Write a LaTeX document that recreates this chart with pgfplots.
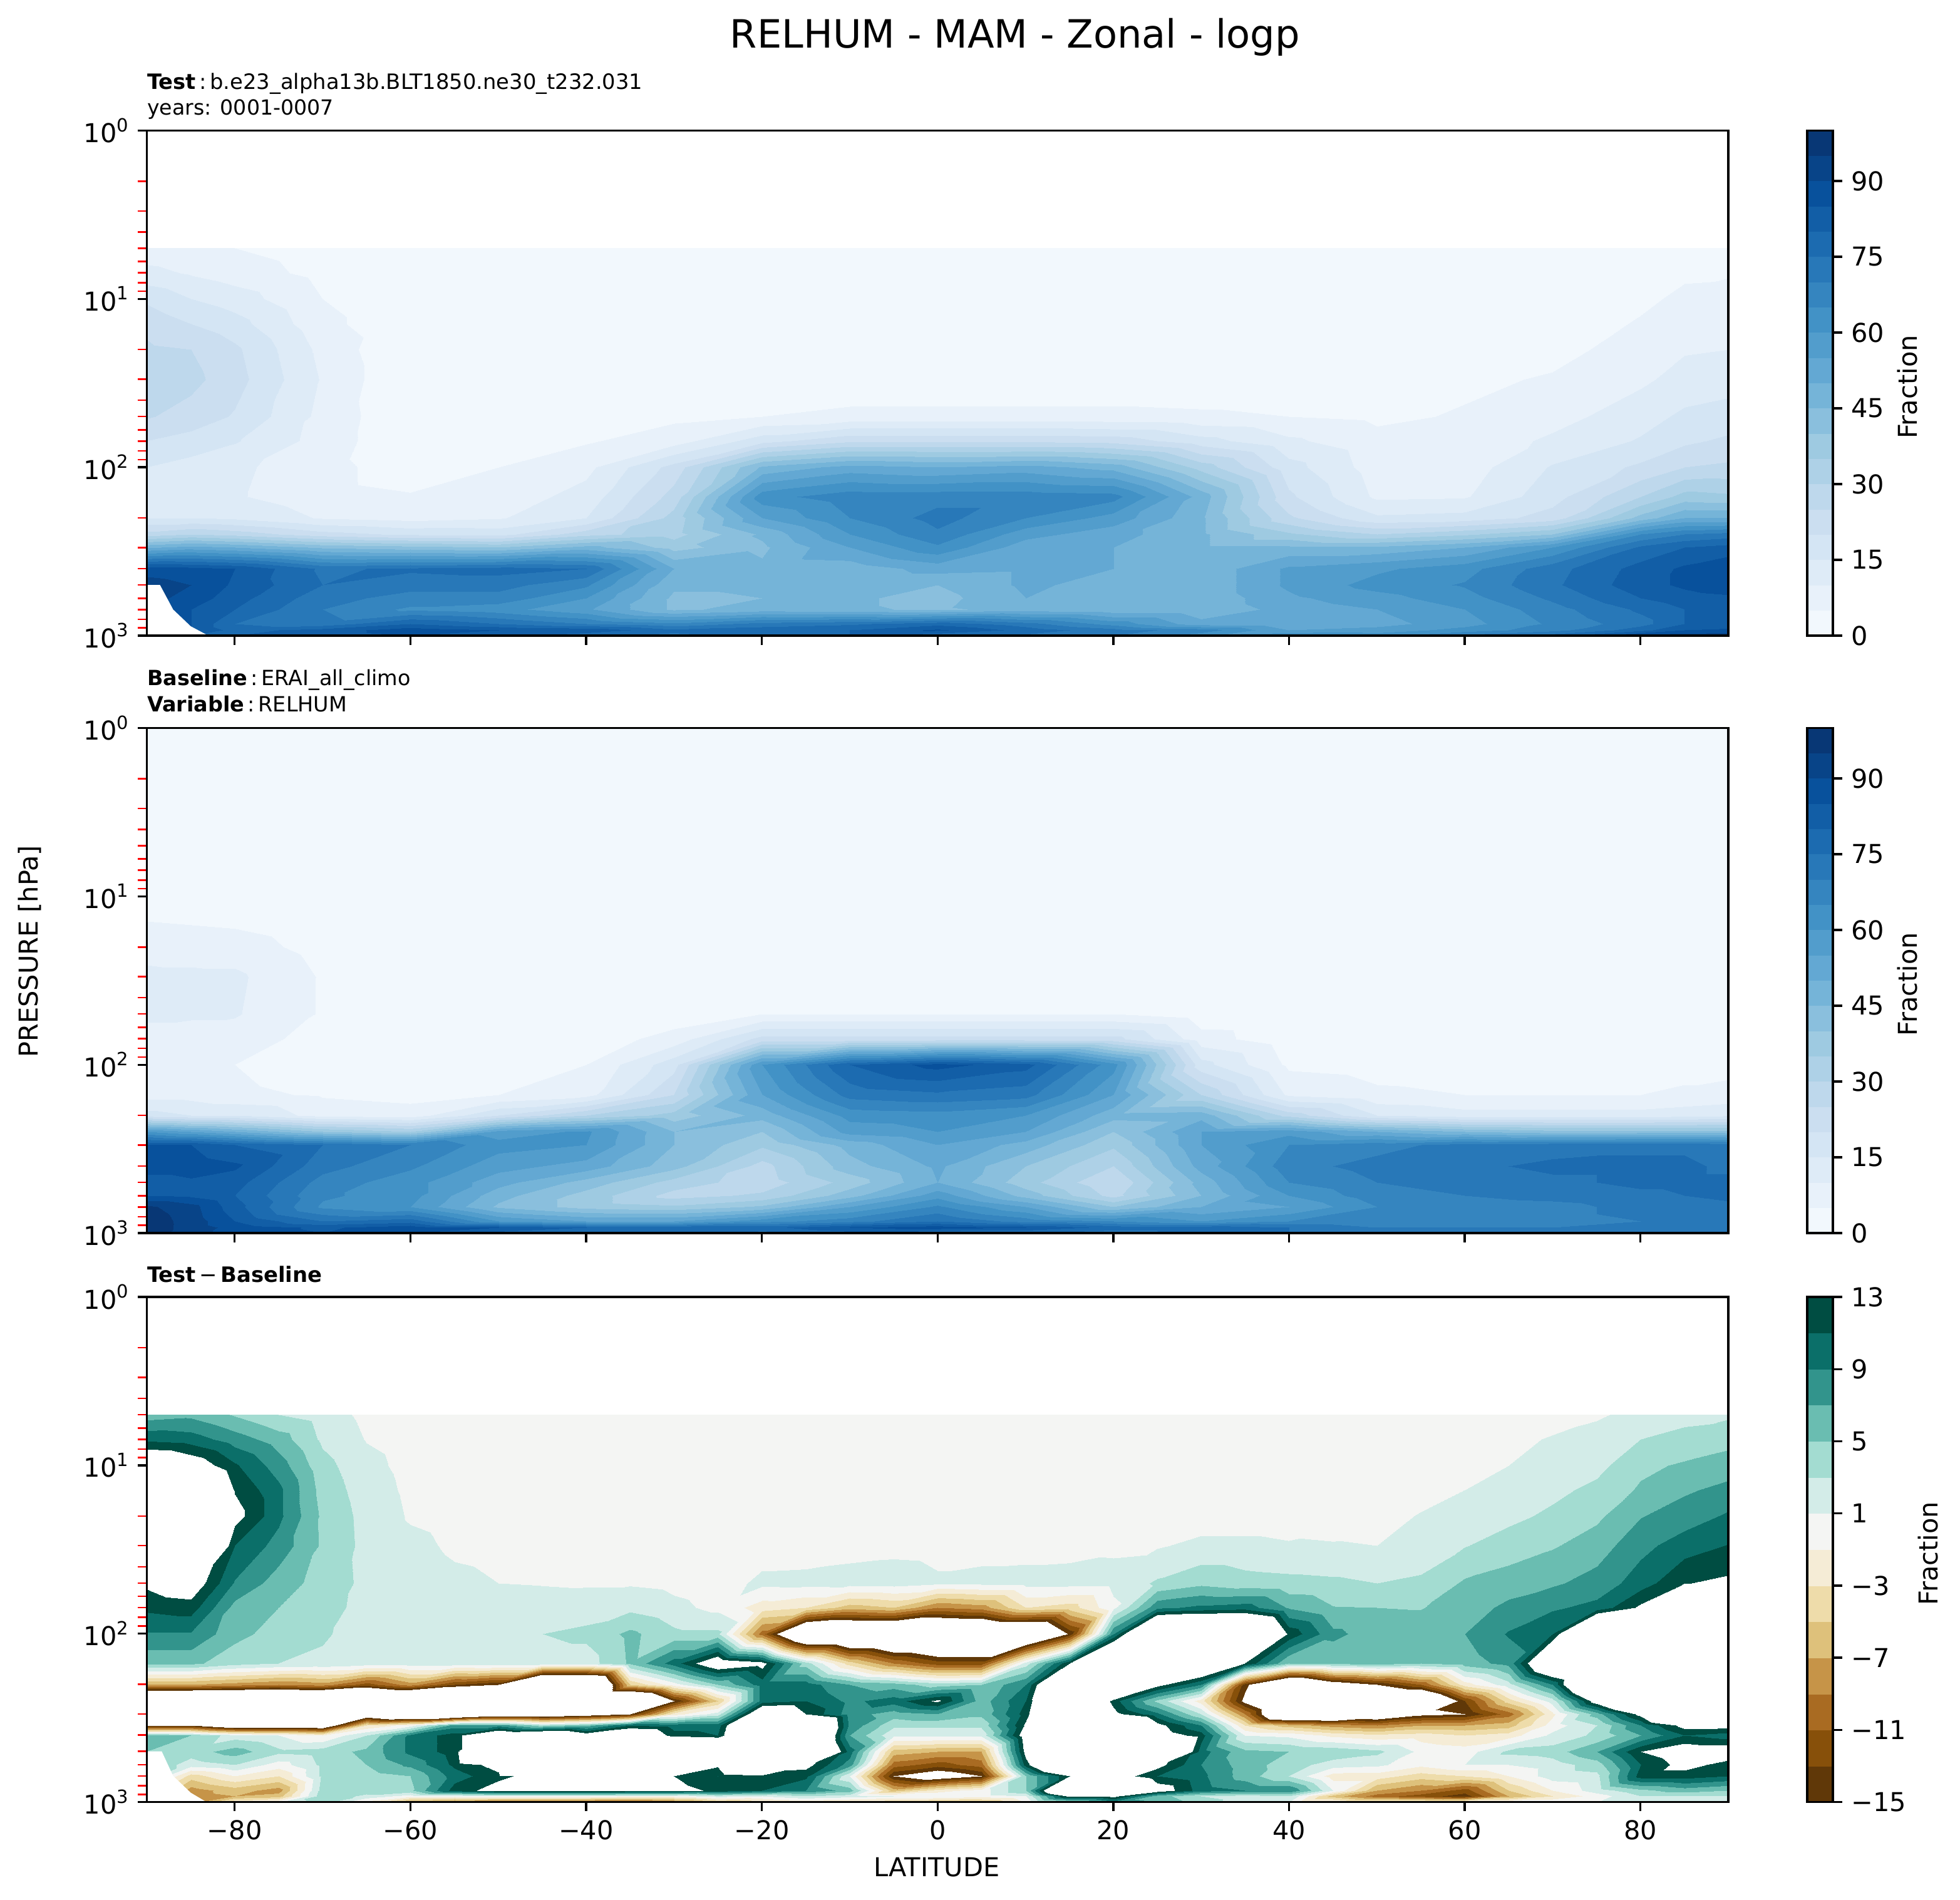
\documentclass[border=0pt]{standalone}
\usepackage{fontspec}
\setmainfont{DejaVu Sans}
\usepackage{pgfplots}
\pgfplotsset{compat=1.18}

% contourf look: interp shading through a stepped colormap
\pgfplotsset{colormap={blues}{rgb255(0)=(242,248,253) rgb255(1)=(232,241,250) rgb255(2)=(222,235,247) rgb255(3)=(212,229,244) rgb255(4)=(203,222,240) rgb255(5)=(190,216,236) rgb255(6)=(174,209,231) rgb255(7)=(158,202,225) rgb255(8)=(138,191,221) rgb255(9)=(117,180,216) rgb255(10)=(99,168,211) rgb255(11)=(82,157,204) rgb255(12)=(66,146,198) rgb255(13)=(53,133,191) rgb255(14)=(40,120,184) rgb255(15)=(28,107,176) rgb255(16)=(18,94,166) rgb255(17)=(8,81,156) rgb255(18)=(8,68,136) rgb255(19)=(8,55,117) rgb255(20)=(8,55,117)}}
% BrBG between -15 and 13, white outside that range
\pgfplotsset{colormap={brbg}{rgb255(0)=(255,255,255) rgb255(1)=(255,255,255) rgb255(2)=(255,255,255) rgb255(3)=(255,255,255) rgb255(4)=(255,255,255) rgb255(5)=(255,255,255) rgb255(6)=(255,255,255) rgb255(7)=(255,255,255) rgb255(8)=(255,255,255) rgb255(9)=(255,255,255)
 rgb255(10)=(96,56,8) rgb255(11)=(135,80,10) rgb255(12)=(169,107,34) rgb255(13)=(198,148,72) rgb255(14)=(222,193,123) rgb255(15)=(238,220,170) rgb255(16)=(245,236,214) rgb255(17)=(244,245,243) rgb255(18)=(211,236,232) rgb255(19)=(163,220,209) rgb255(20)=(106,189,177) rgb255(21)=(50,148,140) rgb255(22)=(11,111,105) rgb255(23)=(0,77,66)
 rgb255(24)=(255,255,255) rgb255(25)=(255,255,255) rgb255(26)=(255,255,255) rgb255(27)=(255,255,255) rgb255(28)=(255,255,255) rgb255(29)=(255,255,255) rgb255(30)=(255,255,255) rgb255(31)=(255,255,255) rgb255(32)=(255,255,255) rgb255(33)=(255,255,255) rgb255(34)=(255,255,255)}}

\newcommand\tp[1]{10\raisebox{0.42em}{\fontsize{7}{7}\selectfont #1}}
\newcommand\rowgrid[3]{\gdef#1{}\def\glist{#2}\foreach \p/\row in {#3}{\foreach \v [count=\i from 0] in \row {\pgfmathparse{{\glist}[\i]}\xdef#1{#1 (\pgfmathresult,\p) [\v]}}}}
\newcommand\colgrid[3]{\gdef#1{}\def\glist{#2}\foreach \lat/\col in {#3}{\foreach \v [count=\i from 0] in \col {\pgfmathparse{{\glist}[\i]}\xdef#1{#1 (\lat,\pgfmathresult) [\v]}}}}
\newcommand\gridplot[3]{\edef\mytmp{\noexpand\addplot[surf,shader=interp,mesh/rows=#2,mesh/cols=#3,point meta=explicit] coordinates {#1};}\mytmp}

\def\latsA{-90,-85,-80,-70,-60,-50,-40,-30,-20,-10,0,10,20,30,40,50,60,70,80,85,90}

\rowgrid\dataA{\latsA}{
5/{7,6,5,2.5,2,2,2,2,2,2,2,2,2,2,2,2,2,2,2,3,3},
7/{11.5,9.5,7.5,3.5,2,2,2,2,2,2,2,2,2,2,2,2,2,2,3,4.3,4.5},
10/{19,15,12.5,5,1,2,2,2,2,2,2,2,2,2,2,2,2,2,4,6,7},
14/{23.5,20,17,6.5,1,2,2,2,2,2,2,2,2,2,2,2,2,2,5.5,7.5,8.5},
20/{26,25,21,8.5,0,2,2,2,2,2,2,2,2,2,2,2,2,3.5,7,9.5,10},
30/{28,26.5,22,9.5,0,2.2,2,2,1,1,1,1,1,1,1,1.5,4,5.5,9,12,13},
50/{25.5,23,19.5,8.5,.5,3,3.5,4,5,6.5,6.5,6.5,6.5,6,5,4,5.5,8,13,16,17},
70/{20,18,15.5,8,.5,3.5,4.5,7.5,18,24,24,24,23,17,11,6.5,6.5,11,15.5,19,21},
100/{15,13,11,7,2,5,8.5,22,46,52,50,52,48,33,17,7.5,7.5,15.5,21,25,26},
150/{12.5,11,10.5,7,5.5,7,12,27,63,68,68,68,67,48,21,9,9.5,18,30,37,36},
200/{15,15,14,9.5,8,9.5,15,32,55,65,72,65,58,46,26,16,17,22,42,50,50},
250/{27,30,28,22,19,18,28,33,46,60,69,57,52,46,36,30,34,40,65,70,72},
300/{49,52,50,44,42,40,47,38,44,55,64,52,50,46,46,46,50,60,76,80,82},
400/{88,87,85,74,76,77,75,50,46,47,52,51,50,46,56,59,63,73,82,86,89},
500/{92,90,84,75,72,72,66,46,46,45,45,51,48,46,56,62,65.5,74,83,86,88},
600/{92,88,82,72,68,68,60,44,45,46,43,50,46,46,54,58,63,71,80,83,84},
700/{90,85,80,70,64,62,56,44,47,46,44,47,46,46,52,55,60,68,76,80,82},
850/{88,85,75,72,80,75,70,66,72,74,78,72,63,52,50,53,58,66,73,80,82},
925/{85,85,78,82,88,85,84,76,78,80,86,78,72,68,55,57,62,68,78,85,86},
1000/{80,80,80,82,85,82,76,74,74,80,76,74,70,62,65,63,72,78,92,93,95}}

\rowgrid\dataB{\latsA}{
1/{1,1,1,1,1,1,1,1,1,1,1,1,1,1,1,1,1,1,1,1,1},
5/{1,1,1,1,1,1,1,1,1,1,1,1,1,1,1,1,1,1,1,1,1},
10/{3,3,2,1,1,1,1,1,1,1,1,1,1,1,1,1,1,1,1,1,1},
14/{5,4.5,4,1.5,1,1,1,1,1,1,1,1,1,1,1,1,1,1,1,1,1},
20/{8.5,8,7.5,3,1,1,1,1,1,1,1,1,1,1,1,1,1,1,1,1,1},
30/{11,11,11,4.5,1,1,1,1,1,1,1,1,1,1,1,1,1,1,1,1,1},
50/{10.5,10.5,10.5,4.5,1.5,1,1,2,5,5,5,5,5,2,1.5,1.5,1.5,1.5,1.5,1.5,1.5},
70/{9,8.5,7.5,3,1.5,1.5,2,7,22,22,22,22,22,7,2,2,2,2,2,2,2},
100/{7.5,7,5,2.5,2,3,5,18,60,80,87,82,62,17,4,3,2.5,2.5,2.5,3,3},
150/{8,8,6,4.5,3.5,5,8,25,55,72,74,72,55,30,9,6,5,5,5,6,7},
200/{17,15,15,8,7,20,30,37,47,62,63,60,47,48,28,15,12,12,12,13,14},
250/{60,55,50,40,35,57,61,45,40,57,60,55,40,55,58,50,45,42,42,42,42},
300/{85,85,80,75,70,62,60,45,36,47,55,48,36,55,65,68,72,73,74,74,72},
400/{88,88,86,72,66,57,53,42,28,43,51,40,30,52,68,72,74,76,76,76,74},
500/{82,84,82,68,62,52,43,33,27,37,50,37,25,47,65,70,72,74,76,76,76},
600/{85,84,80,66,62,47,38,28,31,43,58,43,28,45,60,68,70,72,74,75,76},
700/{96,92,82,64,60,44,38,36,41,55,66,55,40,50,55,65,67,68,72,73,74},
850/{98,93,85,75,78,60,55,55,63,68,75,68,65,60,65,65,66,68,70,71,72},
925/{98,93,88,84,88,85,80,78,78,85,88,85,78,78,75,70,70,70,72,72,72},
1000/{98,92,88,85,85,78,78,80,73,78,75,75,72,78,75,72,72,72,75,73,72}}

\colgrid\dataC{5,7,10,14,20,30,50,70,100,150,200,250,300,350,400,500,600,700,850,925,1000}{
-90/{6,10.5,17,22,25,25,13.5,11.5,8.8,5.5,-7,-30,-30,-15,6,5,5,5,0,-5,-5},
-85/{6.5,10,15,20,25,25,15,12,8.8,5.5,-7,-30,-30,-15,5,4,2,-4,-8,-8,-8},
-80/{4.8,8,11.3,12.8,14,11,8.8,6.3,5.6,3.8,-8,-30,-30,-20,2,6,3,-1,-6,-7,-1},
-75/{3,6,8,9.5,9.5,8.2,6,5,4.2,3,-9,-30,-30,-20,1,3.5,0,-3,-8,-6,1},
-70/{2,2.6,3.7,4.2,4.6,4.7,4.2,3.7,3.2,2.7,-8,-30,-30,-20,-1,4,3.5,3.5,4,4.5,4},
-65/{.5,.9,1.6,2,2.3,2.4,2.5,2.4,2.3,2,-12,-30,-20,-3,3,5.5,5,4,4,2.5,-2},
-60/{0,.2,.4,.6,.8,1.5,2,2,2.2,2.2,-8,-30,-25,0,9.5,9.5,7.5,5,4.5,0,-8},
-55/{0,0,0,.2,.4,.7,1.4,2,2.2,2,-13,-30,-25,8,12,12,11.5,10,12,0,-10},
-50/{0,0,0,0,.2,.5,1,2,2.4,2.2,-15,-30,-20,8,18,25,14,12.5,14,1,-12},
-45/{0,0,0,0,0,.3,.9,1.8,3,2,-30,-30,-20,4,20,30,30,14,14,1,-12},
-40/{0,0,0,0,0,.2,.8,2,3.5,2,-30,-30,-18,6,15,30,30,30,14,1,-12},
-35/{0,0,0,0,0,.1,.8,2.5,5.5,5.3,-5,-30,-15,11,18,30,30,30,14,0,-12},
-30/{0,0,0,0,0,0,.5,1.5,3.5,10,0,-15,-2,10,12,30,30,13,14,0,-10},
-25/{0,0,0,0,0,0,0,.5,3.5,16,5,-5,2,10,11,25,13.5,11,12.5,2,-6},
-20/{0,0,0,0,0,0,1.5,-2,-10,14,10,10,18,25,25,25,25,12,11,1,-4},
-15/{0,0,0,0,0,0,1.6,-3,-25,4,10,11,13,25,25,25,14,11.5,9,3,-3},
-10/{0,0,0,0,0,.3,1.8,-6,-25,-4,7,8.5,8,8.5,7,10,8,1,6,2,-4},
-5/{0,0,0,0,0,.5,1.9,-5,-25,-9,6,10,6,3.5,1.5,-6,-10,-15,-6,1,-5},
0/{0,0,0,0,0,.4,1.3,-9,-25,-12,4,13.5,7,3.5,1.5,-7,-12,-18,-2,1,-6},
5/{0,0,0,0,0,.4,1.5,-8,-25,-12,5,6,5.5,3.5,1.5,-7,-10,-15,0,0,-6},
10/{0,0,0,0,0,.4,1.6,-3,-25,2,9,11,12,13.5,15,14,12,5,5,1,-1},
15/{0,0,0,0,0,.4,1.7,-4,-14.5,13,25,25,25,25,25,25,25,13,25,14,3},
20/{0,0,0,0,0,.7,1.6,.5,9,25,25,12,14,25,25,25,25,15,25,14,8},
25/{0,0,0,0,0,.8,3.3,8.5,25,25,14,4.5,9.5,14,15,25,14,11,15,6,7},
30/{0,0,0,0,0,1.5,4.5,9.5,25,20,9,-2,3,9,12,10,9,9.5,10,3,4},
35/{0,0,0,0,0,1.5,3.8,10,25,13,-14,-16,-9,-3,1,5.5,6,6,9,2,2},
40/{0,0,0,0,0,1.2,3.6,6.8,12.5,5,-25,-25,-25,-6,.5,5,4,3,9,3,1},
45/{0,0,0,0,.4,1.1,3.4,5.1,7.5,5.5,-18,-25,-25,-8,-1.5,4.5,2,-2,1,-6,0},
50/{0,0,0,0,.5,1,3,5,6,6,-15,-25,-20,-9,-2.5,3.5,1.5,-2,-7,-10,0},
55/{0,0,0,.5,1.1,2,3.3,4.9,6.2,5,-11,-25,-16,-7,-2,.5,-.5,-4,-9,-12,0},
60/{0,.1,.5,1,2,2.9,5.3,6,7,6,-2,-13,-15,-7,-3,0,1,-3,-12,-14,1},
65/{0,.4,1,1.7,2.5,3.9,6,7.5,9.2,7.7,2.2,-4,-10,-6,-2,3.5,1,-1,-5,-7,1},
70/{0,1.2,2,2.5,3.4,4.8,6.7,8.7,11,20,9,2,-1.5,0,1.5,4,2,2,-1,-3,1},
75/{.8,1.6,2.4,3.5,4.6,6,7.8,9.6,25,25,25,15,6,3,3.5,7,4,2.5,2,0,1},
80/{1.5,3,4.5,5.3,6.9,8.4,10,13.5,25,25,25,25,14,9,7,13,11,12,4.5,3,2},
85/{2.5,3.5,5.3,6.7,8,10,12.9,25,25,25,25,25,25,14,11,15,14,12,6,3,2},
90/{2.7,4.3,6,7.6,9.3,11.1,13.5,25,25,25,25,25,25,14,10,15,12,11,5,3,1}}

\pgfplotsset{
  myframe/.style={scale only axis, axis on top, tick align=outside,
    axis line style={line width=.8bp},
    tick style={black,line width=.8bp},
    major tick length=3.5bp,
    colormap access=piecewise constant,
    tick label style={font=\fontsize{10}{12}\selectfont},
  },
  mypanel/.style={myframe, width=606.14bp, height=193.56bp,
    xmin=-90, xmax=90, ymin=1, ymax=1000,
    xtick={-80,-60,-40,-20,0,20,40,60,80},
    ytick={1,10,100,1000}, yticklabels={\tp{0},\tp{1},\tp{2},\tp{3}},
    minor ytick={2,3,4,5,6,7,8,9,20,30,40,50,60,70,80,90,200,300,400,500,600,700,800,900},
    minor tick length=3.5bp,
    minor y tick style={red,line width=.6bp},
    xtick pos=bottom, ytick pos=left, enlargelimits=false,
  },
  mybar/.style={myframe, width=9.84bp, height=193.56bp,
    xmin=0, xmax=1, xtick=\empty, ytick pos=right, yticklabel pos=right, enlargelimits=false,
  },
}

\begin{document}
\begin{tikzpicture}
\path[use as bounding box] (0,0) rectangle (751.2bp,728.16bp);

% Test
\begin{axis}[mypanel, ymode=log, y dir=reverse, at={(56.26bp,484.56bp)}, anchor=south west, xticklabels={},
  colormap name=blues, point meta min=0, point meta max=100]
\gridplot{\dataA}{20}{21}
\addplot[fill=white,draw=none] coordinates {(-90,500) (-88.5,500) (-87,700) (-85,880) (-83,1000) (-90,1000)};
\end{axis}
\begin{axis}[mybar, at={(692.64bp,484.56bp)}, anchor=south west, ymin=0, ymax=100,
  ytick={0,15,30,45,60,75,90}, yticklabels={0,15,30,45,60,75,90}, colormap name=blues, point meta min=0, point meta max=100]
\addplot[surf,shader=interp,mesh/rows=2,mesh/cols=2,point meta=explicit] coordinates {(0,0) [0] (1,0) [0] (0,100) [100] (1,100) [100]};
\end{axis}

% Baseline
\begin{axis}[mypanel, ymode=log, y dir=reverse, at={(56.26bp,255.6bp)}, anchor=south west, xticklabels={},
  colormap name=blues, point meta min=0, point meta max=100]
\gridplot{\dataB}{20}{21}
\end{axis}
\begin{axis}[mybar, at={(692.64bp,255.6bp)}, anchor=south west, ymin=0, ymax=100,
  ytick={0,15,30,45,60,75,90}, yticklabels={0,15,30,45,60,75,90}, colormap name=blues, point meta min=0, point meta max=100]
\addplot[surf,shader=interp,mesh/rows=2,mesh/cols=2,point meta=explicit] coordinates {(0,0) [0] (1,0) [0] (0,100) [100] (1,100) [100]};
\end{axis}

% Test - Baseline
\begin{axis}[mypanel, ymode=log, y dir=reverse, at={(56.26bp,37.54bp)}, anchor=south west,
  xticklabels={−80,−60,−40,−20,0,20,40,60,80},
  colormap name=brbg, point meta min=-35, point meta max=33]
\gridplot{\dataC}{37}{21}
\addplot[fill=white,draw=none] coordinates {(-90,500) (-88.3,500) (-87,700) (-85,880) (-83.2,1000) (-90,1000)};
\end{axis}
\begin{axis}[mybar, at={(692.64bp,37.54bp)}, anchor=south west, ymin=-15, ymax=13,
  ytick={-15,-11,-7,-3,1,5,9,13}, yticklabels={−15,−11,−7,−3,1,5,9,13},
  colormap name=brbg, point meta min=-35, point meta max=33]
\addplot[surf,shader=interp,mesh/rows=2,mesh/cols=2,point meta=explicit] coordinates {(0,-15) [-15] (1,-15) [-15] (0,13) [13] (1,13) [13]};
\end{axis}

% titles and labels
\node[anchor=center,font=\fontsize{15}{18}\selectfont] at (389bp,713.8bp) {RELHUM - MAM - Zonal - logp};
\node[anchor=base west,inner sep=0pt,font=\fontsize{8.13}{10}\selectfont] at (56.26bp,693.9bp) {\textbf{Test}\,:\,b.e23\_alpha13b.BLT1850.ne30\_t232.031};
\node[anchor=base west,inner sep=0pt,font=\fontsize{8}{10}\selectfont] at (56.26bp,684.0bp) {years: 0001-0007};
\node[anchor=base west,inner sep=0pt,font=\fontsize{8.05}{10}\selectfont] at (56.26bp,465.5bp) {\textbf{Baseline}\,:\,ERAI\_all\_climo};
\node[anchor=base west,inner sep=0pt,font=\fontsize{8.05}{10}\selectfont] at (56.26bp,455.3bp) {\textbf{Variable}\,:\,RELHUM};
\node[anchor=base west,inner sep=0pt,font=\fontsize{8.15}{10}\selectfont] at (56.26bp,236.8bp) {\textbf{Test}\,−\,\textbf{Baseline}};
\node[rotate=90,font=\fontsize{10}{12}\selectfont] at (11.5bp,363.5bp) {PRESSURE [hPa]};
\node[font=\fontsize{10}{12}\selectfont] at (359bp,12.5bp) {LATITUDE};
\node[rotate=90,font=\fontsize{10}{12}\selectfont] at (731bp,579.8bp) {Fraction};
\node[rotate=90,font=\fontsize{10}{12}\selectfont] at (731bp,350.9bp) {Fraction};
\node[rotate=90,font=\fontsize{10}{12}\selectfont] at (739bp,132.8bp) {Fraction};
\end{tikzpicture}
\end{document}
